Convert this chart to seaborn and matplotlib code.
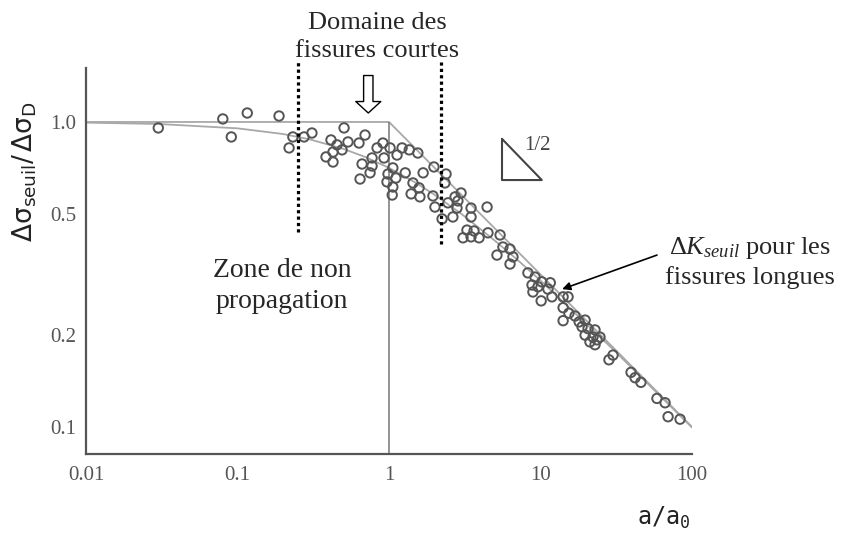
import numpy as np
import pandas as pd
import matplotlib
matplotlib.use('Agg')
import matplotlib.pyplot as plt
import seaborn as sns

a_sur_a0 = [0.030, 0.080, 0.116, 0.188, 0.091, 0.232, 0.275, 0.310, 0.219, 0.414,
            0.454, 0.490, 0.427, 0.384, 0.427, 0.505, 0.536, 0.634, 0.695, 0.912,
            0.834, 1.016, 1.22, 1.36, 1.55, 1.13, 0.927, 0.773, 0.664, 0.773,
            1.06, 0.750, 0.644, 0.985, 1.11, 0.970, 1.06, 1.05, 1.28, 1.68,
            1.98, 2.38, 2.34, 1.44, 1.58, 1.40, 1.60, 1.95, 2.01, 2.24,
            2.45, 2.73, 2.99, 2.85, 2.81, 2.64, 3.48, 4.44, 3.48, 3.27,
            3.64, 3.08, 3.48, 3.93, 4.50, 5.41, 5.65, 6.29, 5.16, 6.58,
            6.29, 8.26, 9.20, 10.2, 11.6, 8.79, 9.62, 11.2, 8.91, 11.9,
            10.1, 14.1, 15.2, 14.1, 15.4, 16.9, 14.1, 18.0, 19.7, 18.8,
            20.6, 22.9, 19.7, 22.2, 21.2, 23.6, 24.7, 22.9, 30.1, 28.3,
            39.6, 42.1, 46.0, 58.7, 66.4, 69.5, 83.4]
rapport = [0.956, 1.023, 1.070, 1.046, 0.893, 0.893, 0.893, 0.920, 0.822, 0.873,
           0.841, 0.810, 0.797, 0.768, 0.739, 0.956, 0.860, 0.853, 0.906, 0.853,
           0.822, 0.822, 0.822, 0.810, 0.791, 0.779, 0.762, 0.762, 0.728, 0.717,
           0.707, 0.681, 0.650, 0.675, 0.655, 0.636, 0.612, 0.576, 0.681, 0.681,
           0.712, 0.675, 0.631, 0.631, 0.608, 0.581, 0.568, 0.572, 0.526, 0.481,
           0.543, 0.568, 0.585, 0.551, 0.522, 0.488, 0.522, 0.526, 0.488, 0.442,
           0.439, 0.417, 0.420, 0.417, 0.433, 0.426, 0.389, 0.383, 0.366, 0.361,
           0.342, 0.320, 0.310, 0.299, 0.297, 0.292, 0.288, 0.283, 0.277, 0.267,
           0.259, 0.267, 0.267, 0.246, 0.236, 0.231, 0.223, 0.221, 0.224, 0.213,
           0.210, 0.208, 0.200, 0.197, 0.190, 0.193, 0.197, 0.186, 0.172, 0.166,
           0.151, 0.145, 0.140, 0.124, 0.120, 0.108, 0.106]

# Courbe continue
courbe_x = [0.01, 0.03, 0.1, 0.2, 0.3, 0.5, 0.7, 1, 1.5, 2, 3, 5, 7, 10, 20, 30, 50, 100]
courbe_y = [0.995, 0.985, 0.953, 0.913, 0.877, 0.816, 0.767, 0.707, 0.632, 0.577,
            0.500, 0.408, 0.354, 0.302, 0.218, 0.180, 0.140, 0.0995]

# Limite Kitagawa-Takahashi (plateau puis pente -1/2)
kt_x = [0.01, 1, 100]
kt_y = [1.0, 1.0, 0.1]

# Bornes du domaine des fissures courtes
bornes_courtes = [0.25, 2.2]

xticks = [0.01, 0.1, 1, 10, 100]
xticklabels = ['0.01', '0.1', '1', '10', '100']
yticks = [0.1, 0.2, 0.5, 1.0]
yticklabels = ['0.1', '0.2', '0.5', '1.0']

sns.set_theme(style='white')
plt.rcParams['font.family'] = ['Liberation Serif', 'DejaVu Serif']
plt.rcParams['mathtext.fontset'] = 'custom'
plt.rcParams['mathtext.rm'] = 'Liberation Serif'
plt.rcParams['mathtext.it'] = 'Liberation Serif:italic'
plt.rcParams['mathtext.sf'] = 'DejaVu Sans'
plt.rcParams['mathtext.tt'] = 'DejaVu Sans Mono'

W, H = 843, 535
fig = plt.figure(figsize=(W / 100, H / 100), dpi=100)
fig.patch.set_facecolor('white')
ax = fig.add_axes([86 / W, 1 - 454 / H, (692 - 86) / W, (454 - 68) / H])
ax.set_xscale('log')
ax.set_yscale('log')
ax.set_xlim(0.01, 100)
ax.set_ylim(0.0815, 1.503)

# Lignes théoriques
ax.plot(kt_x, kt_y, color='#a8a8a8', lw=1.3, zorder=2)
sns.lineplot(x=courbe_x, y=courbe_y, ax=ax, color='#a8a8a8', lw=1.3,
             estimator=None, sort=False, zorder=2)
ax.vlines(1, 0.0815, 1.0, color='#777777', lw=1.1, zorder=2)

# Points
sns.scatterplot(x=a_sur_a0, y=rapport, ax=ax, marker='o', s=46,
                facecolor='none', edgecolor='#555555', linewidth=1.4, zorder=3)

# Lignes pointillées du domaine des fissures courtes
for xb, ybas in zip(bornes_courtes, [0.436, 0.398]):
    ax.plot([xb, xb], [ybas, 1.57], color='black', lw=2.3,
            linestyle=(0, (1, 1)), clip_on=False, zorder=4)

# Flèche creuse
ax.annotate('', xy=(0.73, 1.07), xytext=(0.73, 1.42),
            arrowprops=dict(arrowstyle='simple,head_length=0.55,head_width=1.2,tail_width=0.45',
                            fc='white', ec='black', lw=1.0, shrinkA=0, shrinkB=0,
                            mutation_scale=15))

# Triangle de pente 1/2
ax.plot([5.57, 5.57, 10.2, 5.57], [0.880, 0.645, 0.645, 0.880],
        color='#444444', lw=1.5, zorder=3)
ax.text(9.5, 0.84, '1/2', fontsize=15, color='#444444', ha='center', va='center')

# Flèche vers la limite des fissures longues
ax.annotate('', xy=(13.9, 0.283), xytext=(58.7, 0.366),
            arrowprops=dict(arrowstyle='-|>', color='black', lw=1.2,
                            mutation_scale=12, shrinkA=0, shrinkB=0),
            annotation_clip=False)

# Axes
for s in ['top', 'right']:
    ax.spines[s].set_visible(False)
for s in ['left', 'bottom']:
    ax.spines[s].set_color('#555555')
    ax.spines[s].set_linewidth(1.6)
ax.set_xticks(xticks)
ax.set_xticklabels(xticklabels, fontsize=15, color='#555555')
ax.set_yticks(yticks)
ax.set_yticklabels(yticklabels, fontsize=15, color='#555555')
ax.minorticks_off()
ax.tick_params(axis='both', direction='in', length=10, width=1.3, color='#555555')
ax.tick_params(axis='x', pad=9)
ax.tick_params(axis='y', pad=7)
ax.grid(False)

# Textes
fig.text(377 / W, 1 - 37 / H, 'Domaine des\nfissures courtes', fontsize=19,
         ha='center', va='center', linespacing=1.3)
fig.text(282 / W, 1 - 286 / H, 'Zone de non\npropagation', fontsize=20,
         ha='center', va='center', linespacing=1.3)
fig.text(750 / W, 1 - 262 / H, '$\\mathit{ΔK}_{\\mathit{seuil}}$ pour les\nfissures longues',
         fontsize=19, ha='center', va='center', linespacing=1.3)
fig.text(25 / W, 1 - 172 / H,
         '$\\mathsf{\\Delta\\sigma_{seuil}/\\,\\Delta\\sigma_{D}}$',
         fontsize=19, rotation=90, ha='center', va='center', color='#222222')
fig.text(664 / W, 1 - 518 / H, '$\\mathtt{a/a_0}$',
         fontsize=17, ha='center', va='center', color='#222222')

fig.savefig('out.png', dpi=100, facecolor='white')
plt.close(fig)
